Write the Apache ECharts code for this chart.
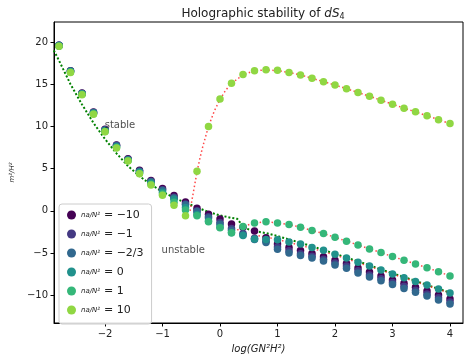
<!DOCTYPE html>
<html><head><meta charset="utf-8">
<script src="https://cdn.jsdelivr.net/npm/echarts@6/dist/echarts.min.js"></script>
<style>html,body{margin:0;padding:0;background:#fff}#c{width:464px;height:359px}</style>
</head><body><div id="c"></div>
<script>
const xs = [-2.8,-2.6,-2.4,-2.2,-2.0,-1.8,-1.6,-1.4,-1.2,-1.0,-0.8,-0.6,-0.4,-0.2,0.0,0.2,0.4,0.6,0.8,1.0,1.2,1.4,1.6,1.8,2.0,2.2,2.4,2.6,2.8,3.0,3.2,3.4,3.6,3.8,4.0];
const naLabels = ['−10','−1','−2/3','0','1','10'];
const colors = ['#440154','#443983','#31688e','#21918c','#35b779','#90d743'];
const yNeg10 = [19.6,16.6,13.95,11.7,9.65,7.8,6.15,4.8,3.6,2.64,1.8,1.05,0.3,-0.4,-0.98,-1.56,-1.95,-2.4,-3.2,-3.95,-4.35,-4.7,-5.05,-5.45,-5.85,-6.25,-6.78,-7.25,-7.72,-8.19,-8.6,-9.05,-9.5,-9.98,-10.46];
const yNeg1 = [19.6,16.55,13.9,11.65,9.6,7.75,6.1,4.7,3.5,2.5,1.6,0.8,0.0,-0.7,-1.4,-2.1,-2.7,-3.25,-3.6,-4.3,-4.75,-5.1,-5.4,-5.75,-6.2,-6.55,-7.12,-7.6,-8.05,-8.5,-8.95,-9.42,-9.85,-10.32,-10.8];
const yNeg23 = [19.6,16.55,13.9,11.65,9.55,7.7,6.05,4.65,3.45,2.4,1.5,0.7,-0.1,-0.85,-1.6,-2.3,-2.85,-3.4,-3.75,-4.55,-5.0,-5.3,-5.6,-5.95,-6.43,-6.8,-7.37,-7.84,-8.3,-8.74,-9.2,-9.67,-10.1,-10.57,-11.04];
const yZero = [19.55,16.5,13.85,11.55,9.5,7.6,6.0,4.55,3.3,2.2,1.36,0.39,-0.45,-1.2,-1.95,-2.6,-2.93,-3.35,-3.4,-3.44,-3.71,-3.95,-4.35,-4.68,-5.15,-5.6,-6.1,-6.55,-7.02,-7.49,-7.95,-8.39,-8.81,-9.28,-9.75];
const yOne = [19.5,16.45,13.8,11.5,9.4,7.5,5.95,4.45,3.15,2.0,1.0,0.1,-0.6,-1.3,-2.0,-2.6,-1.85,-1.45,-1.29,-1.45,-1.64,-1.95,-2.34,-2.7,-3.15,-3.6,-4.05,-4.53,-4.95,-5.43,-5.85,-6.32,-6.75,-7.22,-7.72];
const yTen = [19.5,16.4,13.75,11.45,9.35,7.45,5.9,4.4,3.05,1.85,0.66,-0.58,4.68,10.0,13.25,15.12,16.14,16.6,16.72,16.64,16.4,16.1,15.7,15.3,14.9,14.46,14.03,13.57,13.1,12.63,12.16,11.73,11.26,10.8,10.33];
const seriesY = [yNeg10,yNeg1,yNeg23,yZero,yOne,yTen];

const stableX = [-2.89,-2.8,-2.6,-2.4,-2.2,-2.0,-1.8,-1.6,-1.4,-1.2,-1.0,-0.8,-0.6,-0.4,-0.2,0.0,0.2,0.3,0.35,0.4,0.6,0.8,1.0,1.2,1.4,1.6,1.8,2.0,2.2,2.4,2.6,2.8,3.0,3.2,3.4,3.6,3.8,4.0];
const stableY = [19.0,17.8,15.0,12.6,10.4,8.5,6.8,5.3,4.1,3.1,2.25,1.55,0.95,0.4,-0.15,-0.55,-0.85,-0.95,-1.4,-2.0,-2.4,-2.65,-3.0,-3.4,-3.8,-4.2,-4.65,-5.1,-5.55,-6.0,-6.45,-6.95,-7.4,-7.85,-8.3,-8.8,-9.25,-9.7];
const unstAX = [-0.52,-0.5,-0.45,-0.4,-0.35,-0.3,-0.2,-0.1,0.0,0.1,0.2,0.4,0.6,0.8,1.0,1.2,1.4,1.6,1.8,2.0,2.2,2.4,2.6,2.8,3.0,3.2,3.4,3.6,3.8,4.0];
const unstAY = [0.0,0.8,2.7,4.6,6.2,7.6,10.0,11.8,13.2,14.3,15.1,16.1,16.6,16.7,16.6,16.4,16.1,15.7,15.3,14.9,14.46,14.03,13.57,13.1,12.63,12.16,11.73,11.26,10.8,10.33];
const unstBX = [0.3,0.4,0.6,0.8,1.0,1.2,1.4,1.6,1.8,2.0,2.2,2.4,2.6,2.8,3.0,3.2,3.4,3.6,3.8,4.0];
const unstBY = [-2.3,-1.85,-1.45,-1.3,-1.45,-1.64,-1.95,-2.34,-2.7,-3.15,-3.6,-4.05,-4.53,-4.95,-5.43,-5.85,-6.32,-6.75,-7.22,-7.72];
const unstCX = [0.6,0.8,1.0,1.2,1.4,1.6,1.8,2.0,2.2,2.4,2.6,2.8,3.0,3.2,3.4,3.6,3.8,4.0];
const unstCY = [-2.9,-3.1,-3.4,-3.75,-4.1,-4.45,-4.85,-5.25,-5.7,-6.15,-6.6,-7.05,-7.5,-7.95,-8.4,-8.85,-9.3,-9.8];

const xTicks = [-2,-1,0,1,2,3,4];
const yTicks = [-10,-5,0,5,10,15,20];
const annotX = [-1.74,-0.64];
const annotY = [10.1,-4.65];
const annotText = ['stable','unstable'];

const FONT = 'DejaVu Sans';
const pair = (a,b) => a.map((v,i)=>[v,b[i]]);
const minus = v => v < 0 ? '−' + Math.abs(v) : String(v);

const series = [];
const dotted = (xa, ya, color, w, dash) => ({
  type:'line', data: pair(xa, ya), showSymbol:false, symbol:'none', silent:true, z:1,
  lineStyle:{color, width:w, type:dash}, animation:false
});
series.push(dotted(stableX, stableY, '#008000', 2, [2,2]));
series.push(dotted(unstAX, unstAY, 'rgba(255,40,40,0.85)', 1.5, [1.5,2.5]));
series.push(dotted(unstBX, unstBY, 'rgba(255,40,40,0.85)', 1.5, [1.5,2.5]));
series.push(dotted(unstCX, unstCY, 'rgba(255,40,40,0.85)', 1.5, [1.5,2.5]));
seriesY.forEach((ys,k)=>{
  series.push({
    type:'scatter', name: naLabels[k], data: pair(xs, ys), symbol:'circle', symbolSize:7.5,
    itemStyle:{color: colors[k], opacity:1}, z:2+k, animation:false
  });
});
series.push({
  type:'scatter', data: pair(annotX, annotY).map((p,i)=>({value:p, name:annotText[i]})),
  symbolSize:0, silent:true, z:10, animation:false,
  label:{show:true, position:'inside', formatter: p=>p.name, color:'#222', fontSize:10, fontFamily:FONT}
});

const chart = echarts.init(document.getElementById('c'), null, {renderer:'canvas'});
chart.setOption({
  animation:false,
  title:{
    text:'Holographic stability of {i|dS}{s|4}', left:258, top:2, textAlign:'center',
    textStyle:{fontSize:12, fontWeight:'normal', color:'#222', fontFamily:FONT,
      rich:{i:{fontStyle:'italic', fontSize:12, color:'#222', fontFamily:FONT},
            s:{fontSize:8, color:'#222', fontFamily:FONT, padding:[6,0,0,0]}}}
  },
  grid:{left:54, right:1, top:22, bottom:32, show:true, borderColor:'#000', borderWidth:1, backgroundColor:'transparent'},
  legend:{
    data: naLabels, orient:'vertical', left:59, top:204, icon:'circle', itemWidth:9, itemHeight:9,
    itemGap:7, padding:[5,8,8,8], borderColor:'#ccc', borderWidth:1, borderRadius:3,
    backgroundColor:'rgba(255,255,255,0.85)',
    formatter: n => '{f|na/N²} {v|= ' + n + '}',
    textStyle:{fontFamily:FONT, color:'#222',
      rich:{f:{fontSize:7, fontStyle:'italic', color:'#222', fontFamily:FONT},
            v:{fontSize:11, color:'#222', fontFamily:FONT}}}
  },
  xAxis:{
    type:'value', min:-2.887, max:4.226,
    name:'log(GN²H²)', nameLocation:'middle', nameGap:21,
    nameTextStyle:{fontStyle:'italic', fontSize:10, color:'#222', fontFamily:FONT},
    axisLine:{show:true, onZero:false, lineStyle:{color:'#000', width:1}},
    axisTick:{show:true, length:3.5, lineStyle:{color:'#000'}, customValues:xTicks},
    axisLabel:{customValues:xTicks, formatter:minus, fontSize:10, color:'#222', fontFamily:FONT, margin:6},
    splitLine:{show:false}
  },
  yAxis:{
    type:'value', min:-13.3, max:22.37,
    name:'m²/H²', nameLocation:'middle', nameGap:24, nameRotate:90,
    nameTextStyle:{fontStyle:'italic', fontSize:7, color:'#222', fontFamily:FONT},
    axisLine:{show:true, onZero:false, lineStyle:{color:'#000', width:1}},
    axisTick:{show:true, length:3.5, lineStyle:{color:'#000'}, customValues:yTicks},
    axisLabel:{customValues:yTicks, formatter:minus, fontSize:10, color:'#222', fontFamily:FONT, margin:6},
    splitLine:{show:false}
  },
  series
});
</script></body></html>
